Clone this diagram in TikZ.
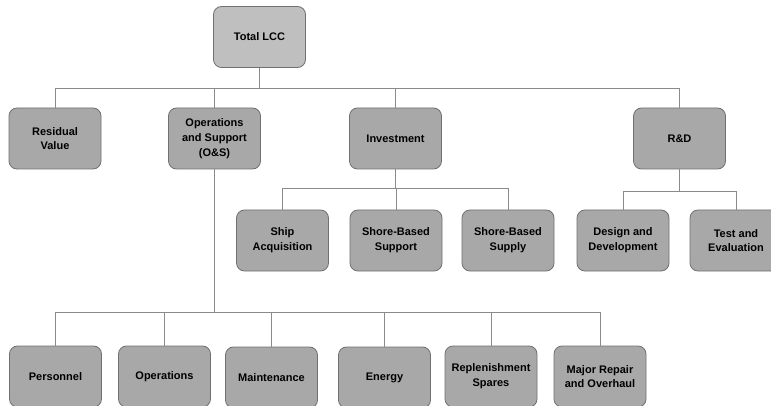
\documentclass[tikz,border=0pt]{standalone}
\usepackage{fontspec}
\setmainfont{Liberation Sans}
\definecolor{boxfill}{HTML}{A8A8A8}
\definecolor{topfill}{HTML}{BFBFBF}
\definecolor{boxline}{HTML}{707070}
\definecolor{linkgray}{HTML}{8A8A8A}
\begin{document}
\begin{tikzpicture}[x=1pt,y=-1pt,
  box/.style={draw=boxline, fill=boxfill, rounded corners=8pt,
    minimum width=92pt, minimum height=61pt, align=center, inner sep=2pt,
    line width=0.8pt, font=\fontsize{11}{14.8}\selectfont\bfseries},
  link/.style={draw=linkgray, line width=0.8pt}]
\clip (0,0) rectangle (771,406);
\fill[white] (0,0) rectangle (771,406);

% top
\node[box, fill=topfill] (total) at (259.5,37) {Total LCC};

% first level
\node[box] (resid) at (55,138.5) {Residual\\Value};
\node[box] (os) at (214.5,138.5) {Operations\\and Support\\(O\&S)};
\node[box] (inv) at (395.5,138.5) {Investment};
\node[box] (rd) at (679.5,138.5) {R\&D};

% investment branch
\node[box] (ship) at (282.5,240.5) {Ship\\Acquisition};
\node[box] (sbsupport) at (396,240.5) {Shore-Based\\Support};
\node[box] (sbsupply) at (508,240.5) {Shore-Based\\Supply};

% R&D branch
\node[box] (dd) at (623,240.5) {Design and\\Development};
\node[box] (te) at (736,240.5) {Test and\\Evaluation};

% O&S branch
\node[box] (pers) at (55.5,376.5) {Personnel};
\node[box] (oper) at (164.5,376.5) {Operations};
\node[box] (maint) at (271.5,377.5) {Maintenance};
\node[box] (energy) at (384.5,377.5) {Energy};
\node[box] (repl) at (491,376.5) {Replenishment\\Spares};
\node[box] (major) at (600,376.5) {Major Repair\\and Overhaul};

% connectors
\foreach \c in {resid,os,inv,rd}
  \draw[link] (total.south) -- ++(0,21) -| (\c.north);
\foreach \c in {ship,sbsupport,sbsupply}
  \draw[link] (inv.south) -- ++(0,19.5) -| (\c.north);
\foreach \c in {dd,te}
  \draw[link] (rd.south) -- ++(0,22) -| (\c.north);
\foreach \c in {pers,oper,maint,energy,repl,major}
  \draw[link] (os.south) -- ++(0,143) -| (\c.north);
\end{tikzpicture}
\end{document}
